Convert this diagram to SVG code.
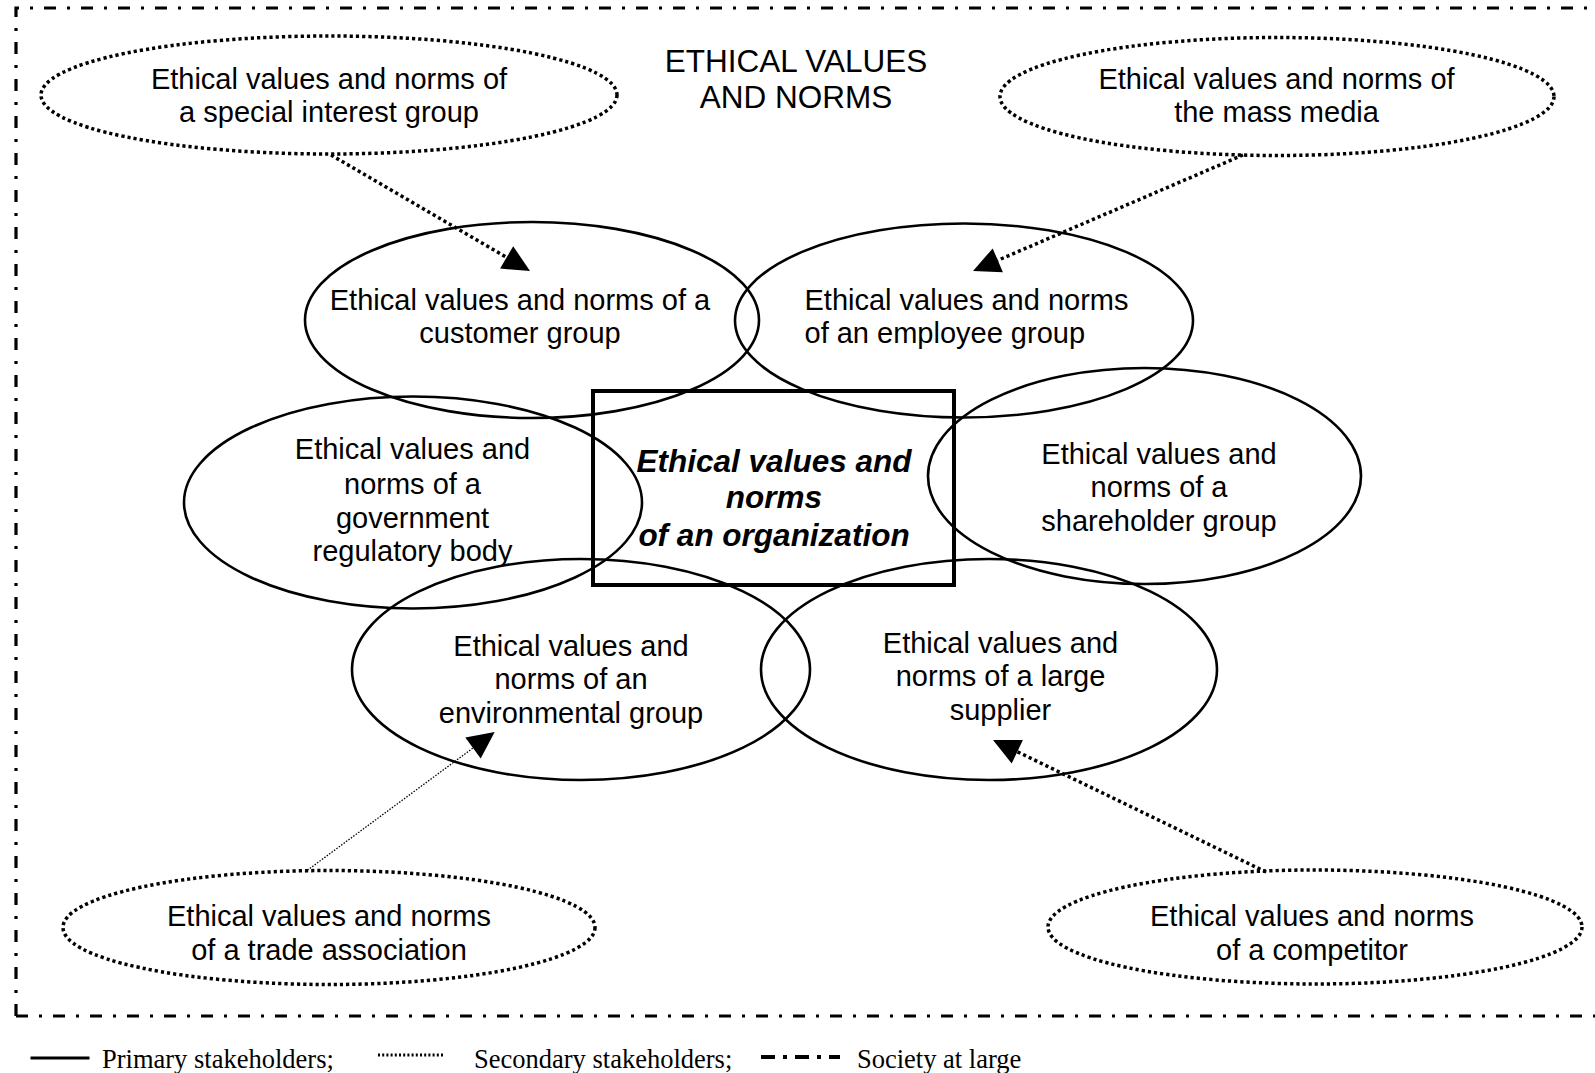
<svg xmlns="http://www.w3.org/2000/svg" width="1595" height="1073" viewBox="0 0 1595 1073">
<style>
.t{font-family:"Liberation Sans",Arial,sans-serif;font-size:29px;fill:#000;text-anchor:middle}
.title{font-family:"Liberation Sans",Arial,sans-serif;font-size:31.5px;fill:#000;text-anchor:middle}
.org{font-family:"Liberation Sans",Arial,sans-serif;font-size:31.5px;font-weight:bold;font-style:italic;fill:#000;text-anchor:middle}
.leg{font-family:"Liberation Serif","Times New Roman",serif;font-size:26.5px;fill:#000}
.pri{fill:none;stroke:#000;stroke-width:2.6}
.sec{fill:none;stroke:#000;stroke-width:3.5;stroke-dasharray:3.2 3}
.soc{fill:none;stroke:#000;stroke-width:3.2;stroke-dasharray:12 11 3 11}
.con{fill:none;stroke:#000;stroke-width:3.5;stroke-dasharray:3.2 3}
.thin{fill:none;stroke:#000;stroke-width:1.3;stroke-dasharray:1.5 1.5}
.ah{fill:#000;stroke:none}
</style>
<rect width="1595" height="1073" fill="#fff"/>
<g id="society">
<path class="soc" d="M16,1016 L16,8 L1620,8 M16,1016 L1620,1016"/>
<text class="title" x="796" y="72">ETHICAL VALUES</text>
<text class="title" x="796" y="108">AND NORMS</text>
</g>
<g id="special-interest">
<ellipse class="sec" cx="329" cy="95" rx="288" ry="59"/>
<text class="t" x="329" y="88.5">Ethical values and norms of</text>
<text class="t" x="329" y="122">a special interest group</text>
</g>
<g id="mass-media">
<ellipse class="sec" cx="1277" cy="96.5" rx="277" ry="59"/>
<text class="t" x="1276.5" y="88.5">Ethical values and norms of</text>
<text class="t" x="1276.5" y="122">the mass media</text>
</g>
<g id="customer">
<ellipse class="pri" cx="532" cy="320" rx="227" ry="98"/>
<text class="t" x="520" y="309.5">Ethical values and norms of a</text>
<text class="t" x="520" y="343">customer group</text>
</g>
<g id="employee">
<ellipse class="pri" cx="964" cy="320.5" rx="229" ry="97"/>
<text class="t" x="804.5" y="309.5" style="text-anchor:start">Ethical values and norms</text>
<text class="t" x="804.5" y="343" style="text-anchor:start">of an employee group</text>
</g>
<g id="government">
<ellipse class="pri" cx="413" cy="502.5" rx="229" ry="106"/>
<text class="t" x="412.5" y="459">Ethical values and</text>
<text class="t" x="412.5" y="494">norms of a</text>
<text class="t" x="412.5" y="527.5">government</text>
<text class="t" x="412.5" y="561">regulatory body</text>
</g>
<g id="shareholder">
<ellipse class="pri" cx="1144.5" cy="476" rx="216.5" ry="108"/>
<text class="t" x="1159" y="463.5">Ethical values and</text>
<text class="t" x="1159" y="497">norms of a</text>
<text class="t" x="1159" y="530.5">shareholder group</text>
</g>
<g id="environmental">
<ellipse class="pri" cx="581" cy="669.5" rx="229" ry="110.5"/>
<text class="t" x="571" y="655.5">Ethical values and</text>
<text class="t" x="571" y="689">norms of an</text>
<text class="t" x="571" y="722.5">environmental group</text>
</g>
<g id="supplier">
<ellipse class="pri" cx="989" cy="669.5" rx="228" ry="110.5"/>
<text class="t" x="1000.5" y="652.5">Ethical values and</text>
<text class="t" x="1000.5" y="686">norms of a large</text>
<text class="t" x="1000.5" y="719.5">supplier</text>
</g>
<g id="organization">
<rect x="593" y="391" width="361" height="194" fill="none" stroke="#000" stroke-width="4"/>
<text class="org" x="774" y="471.5">Ethical values and</text>
<text class="org" x="774" y="508">norms</text>
<text class="org" x="774" y="545.5">of an organization</text>
</g>
<g id="trade-association">
<ellipse class="sec" cx="329" cy="927.5" rx="266" ry="57"/>
<text class="t" x="329" y="926">Ethical values and norms</text>
<text class="t" x="329" y="959.5">of a trade association</text>
</g>
<g id="competitor">
<ellipse class="sec" cx="1315" cy="927" rx="267" ry="57"/>
<text class="t" x="1312" y="926">Ethical values and norms</text>
<text class="t" x="1312" y="959.5">of a competitor</text>
</g>
<g id="connectors">
<line class="con" x1="331" y1="155" x2="506.7" y2="257.4"/>
<polygon class="ah" points="530,271 500.1,268.6 513.2,246.2"/>
<line class="con" x1="1243" y1="155" x2="997.8" y2="260.3"/>
<polygon class="ah" points="973,271 992.7,248.4 1002.9,272.2"/>
<line class="thin" x1="305" y1="872" x2="473" y2="748"/>
<polygon class="ah" points="494.7,732 465.3,737.5 480.7,758.5"/>
<line class="con" x1="1266" y1="872" x2="1017.3" y2="751.7"/>
<polygon class="ah" points="993,740 1011.7,763.4 1022.9,740"/>
</g>
<g id="legend">
<line x1="30.5" y1="1058" x2="89.5" y2="1058" stroke="#000" stroke-width="3"/>
<text class="leg" x="102" y="1068">Primary stakeholders;</text>
<line x1="378" y1="1055" x2="445" y2="1055" stroke="#000" stroke-width="3" stroke-dasharray="2 2.2"/>
<text class="leg" x="474" y="1068">Secondary stakeholders;</text>
<line x1="761" y1="1057" x2="840" y2="1057" stroke="#000" stroke-width="4" stroke-dasharray="14 8 4 8"/>
<text class="leg" x="857" y="1068">Society at large</text>
</g>
</svg>
